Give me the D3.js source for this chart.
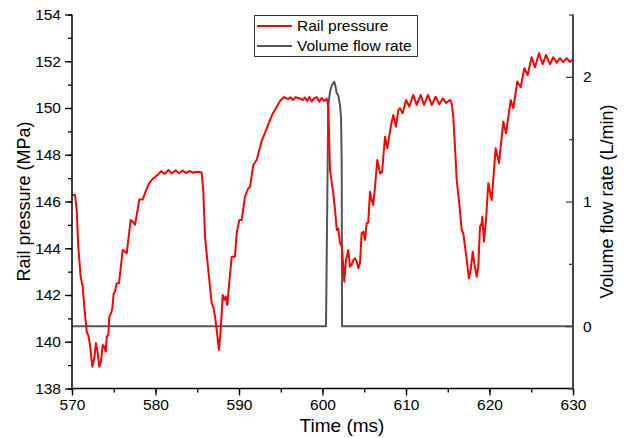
<!DOCTYPE html>
<html><head><meta charset="utf-8">
<script src="https://cdn.jsdelivr.net/npm/d3@7"></script>
<style>
body{margin:0;background:#fff;}
text{font-family:"Liberation Sans",Arial,sans-serif;}
</style></head>
<body><svg id="c" width="629" height="438"></svg>
<script>
// ---- data ----
const pressureTime = [570.00,570.08,570.36,570.56,570.75,571.04,571.28,571.47,571.76,571.95,572.16,572.43,572.67,572.87,573.08,573.27,573.47,573.68,573.87,574.04,574.16,574.35,574.47,574.67,574.83,574.99,575.15,575.35,575.63,575.83,576.07,576.35,576.55,576.74,577.03,577.27,577.54,577.82,578.06,578.47,578.74,579.14,579.54,579.94,580.30,580.70,581.10,581.55,581.95,582.40,582.80,583.25,583.65,584.10,584.50,584.95,585.40,585.53,585.72,585.93,586.32,586.73,586.92,587.13,587.33,587.60,587.81,588.05,588.24,588.41,588.60,588.84,589.13,589.52,589.72,590.04,590.32,590.72,591.11,591.32,591.71,592.12,592.43,592.75,593.11,593.47,593.95,594.43,594.91,595.39,595.87,596.17,596.47,596.77,597.31,597.63,597.90,598.18,598.42,598.71,598.98,599.30,599.62,599.90,600.18,600.50,600.69,600.90,601.29,601.50,601.71,601.89,602.10,602.31,602.49,602.61,602.81,603.09,603.29,603.50,603.69,603.89,604.10,604.29,604.49,604.69,604.89,605.09,605.29,605.48,605.69,605.89,606.08,606.29,606.56,606.89,607.13,607.49,607.76,608.08,608.29,608.48,608.80,609.08,609.28,609.60,610.00,610.39,610.87,611.28,611.76,612.16,612.63,613.08,613.56,613.99,614.40,614.79,615.27,615.47,615.66,615.87,616.07,616.38,616.67,616.86,617.07,617.27,617.54,617.75,617.99,618.18,618.47,618.66,618.86,619.07,619.14,619.34,619.58,619.86,620.26,620.74,621.14,621.65,621.98,622.54,622.85,623.33,623.74,624.17,624.57,625.05,625.45,625.93,626.37,626.77,627.25,627.64,628.05,628.44,628.84,629.25,629.64,630.00];
const railPressure = [146.30,146.28,146.28,145.64,144.07,142.78,142.36,141.50,140.43,140.29,139.86,138.93,139.29,139.95,139.52,138.93,139.15,139.86,139.79,139.57,140.22,140.29,141.07,141.22,141.43,142.07,142.14,142.50,142.50,143.14,143.93,143.85,143.78,144.35,145.21,145.14,145.00,145.56,146.09,146.09,146.35,146.71,146.92,147.05,147.15,147.30,147.18,147.35,147.20,147.34,147.21,147.32,147.22,147.30,147.23,147.27,147.25,147.23,146.49,144.50,143.07,141.64,141.50,141.07,140.50,139.65,140.50,142.00,141.79,141.93,141.57,142.57,143.64,143.64,144.64,145.21,145.21,146.21,146.56,146.63,147.56,147.78,148.20,148.63,148.93,149.27,149.70,150.00,150.30,150.47,150.38,150.46,150.34,150.46,150.41,150.34,150.45,150.30,150.47,150.27,150.41,150.47,150.27,150.43,150.30,150.40,150.06,147.35,146.35,145.64,144.78,144.85,144.21,144.10,143.21,142.57,143.50,143.93,143.21,143.30,143.50,143.57,143.43,143.14,143.35,144.64,144.71,144.35,145.07,145.10,146.42,146.06,145.85,146.63,147.78,147.20,147.25,148.77,148.28,148.99,149.41,149.70,149.20,149.91,149.99,149.77,150.34,150.06,150.56,150.13,150.56,150.13,150.56,150.13,150.48,150.16,150.41,150.22,150.34,150.20,149.63,148.34,146.92,145.92,144.78,144.64,144.07,143.50,142.71,143.07,143.85,143.35,142.78,143.21,144.92,145.07,145.35,144.28,145.21,146.78,146.06,148.28,147.63,149.41,148.92,150.34,149.99,151.13,150.89,151.70,151.41,152.17,151.74,152.34,151.88,152.27,151.87,152.17,151.94,152.13,151.96,152.13,151.96,152.10];

const flowTime = [570.00,600.42,600.69,600.90,601.10,601.29,601.41,601.53,601.70,601.89,602.10,602.22,602.30,602.34,630.00];
const flowRate = [0,0,1.77,1.88,1.93,1.95,1.96,1.93,1.87,1.85,1.77,1.67,1.32,0,0];

const xTicks = [570,580,590,600,610,620,630];
const yLeftTicks = [138,140,142,144,146,148,150,152,154];
const yRightTicks = [0,1,2];
const seriesNames = ["Rail pressure","Volume flow rate"];

// ---- layout ----
const svg = d3.select("#c");
const L = 72, R = 573, T = 14.5, B = 388.5;
const x = d3.scaleLinear().domain([570,630]).range([L,R]);
const yL = d3.scaleLinear().domain([138,154]).range([B,T]);
const yR = d3.scaleLinear().domain([-0.5,2.5]).range([B,T]);
const fontTick = "15.5px";

// lines
const redLine = d3.line().x((d,i)=>x(pressureTime[i])).y(d=>yL(d));
const grayLine = d3.line().x((d,i)=>x(flowTime[i])).y(d=>yR(d));

svg.append("path").datum(flowRate).attr("d",grayLine)
  .attr("fill","none").attr("stroke","#555").attr("stroke-width",2).attr("stroke-linejoin","round");
svg.append("path").datum(railPressure).attr("d",redLine)
  .attr("fill","none").attr("stroke","#ff0000").attr("stroke-width",2).attr("stroke-linejoin","round");

// left axis
const gL = svg.append("g").attr("transform",`translate(${L},0)`);
gL.call(d3.axisLeft(yL).tickValues(d3.range(138,154.1,1)).tickSize(4).tickFormat(""));
gL.call(g=>g.select(".domain").remove());
const gL2 = svg.append("g").attr("transform",`translate(${L},0)`);
gL2.call(d3.axisLeft(yL).tickValues(yLeftTicks).tickSize(7).tickPadding(4).tickFormat(d3.format("d")));
[gL,gL2].forEach(g=>{g.selectAll("line").attr("stroke","#000").attr("stroke-width",1.3);});
gL2.select(".domain").attr("d",`M0,${T}V${B}`).attr("stroke","#000").attr("stroke-width",1.5);
gL2.selectAll("text").style("font-size",fontTick).attr("fill","#000");

// bottom axis
const gB = svg.append("g").attr("transform",`translate(0,${B})`);
gB.call(d3.axisBottom(x).tickValues(d3.range(570,630.1,5)).tickSize(4).tickFormat(""));
gB.call(g=>g.select(".domain").remove());
const gB2 = svg.append("g").attr("transform",`translate(0,${B})`);
gB2.call(d3.axisBottom(x).tickValues(xTicks).tickSize(7).tickPadding(3).tickFormat(d3.format("d")));
[gB,gB2].forEach(g=>{g.selectAll("line").attr("stroke","#000").attr("stroke-width",1.3);});
gB2.select(".domain").attr("d",`M${L},0H${R}`).attr("stroke","#000").attr("stroke-width",1.5);
gB2.selectAll("text").style("font-size",fontTick).attr("fill","#000");

// right axis (ticks inward)
const gR = svg.append("g").attr("transform",`translate(${R},0)`);
gR.call(d3.axisLeft(yR).tickValues([-0.5,0.5,1.5,2.5]).tickSize(4).tickFormat(""));
gR.call(g=>g.select(".domain").remove());
const gR2 = svg.append("g").attr("transform",`translate(${R},0)`);
gR2.call(d3.axisRight(yR).tickValues(yRightTicks).tickSize(0).tickPadding(10).tickFormat(d3.format("d")));
gR2.selectAll(".tick").append("line").attr("x1",-7).attr("x2",0);
[gR,gR2].forEach(g=>{g.selectAll("line").attr("stroke","#444").attr("stroke-width",1.3);});
gR2.select(".domain").attr("d",`M0,${T}V${B}`).attr("stroke","#444").attr("stroke-width",2);
gR2.selectAll("text").style("font-size",fontTick).attr("fill","#000");

// axis titles
svg.append("text").attr("x",342).attr("y",432).attr("text-anchor","middle")
  .style("font-size","19px").text("Time (ms)");
svg.append("text").attr("transform",`translate(30,${(T+B)/2}) rotate(-90)`).attr("text-anchor","middle")
  .style("font-size","18px").text("Rail pressure (MPa)");
svg.append("text").attr("transform",`translate(613,${(T+B)/2}) rotate(-90)`).attr("text-anchor","middle")
  .style("font-size","18px").text("Volume flow rate (L/min)");

// legend
const lg = svg.append("g");
lg.append("rect").attr("x",254.5).attr("y",15.5).attr("width",163).attr("height",41)
  .attr("fill","#fff").attr("stroke","#333").attr("stroke-width",1);
const legColors = ["#ff0000","#555"];
seriesNames.forEach((n,i)=>{
  const yy = 26 + i*20;
  lg.append("line").attr("x1",257).attr("x2",292).attr("y1",yy).attr("y2",yy)
    .attr("stroke",legColors[i]).attr("stroke-width",2);
  lg.append("text").attr("x",297).attr("y",yy+5).style("font-size","15.5px").text(n);
});
</script></body></html>
